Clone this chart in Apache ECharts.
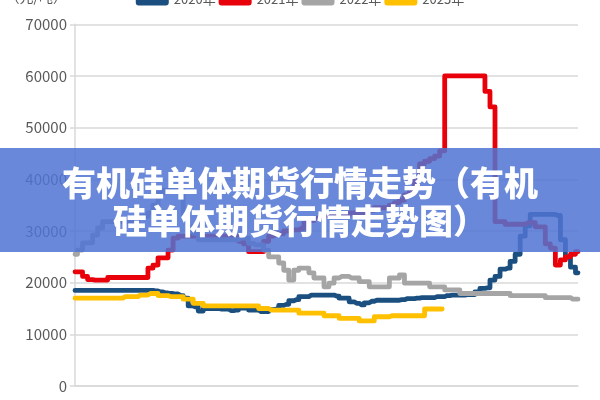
<!DOCTYPE html>
<html>
<head>
<meta charset="utf-8">
<script src="https://cdn.jsdelivr.net/npm/echarts@6/dist/echarts.min.js"></script>
<style>
html,body{margin:0;padding:0;background:#fff;}
#chart{width:600px;height:400px;}
</style>
</head>
<body>
<div id="chart"></div>
<script>
// ---- data ----
const seriesNames = ['2020年', '2021年', '2022年', '2023年'];
const categories = Array.from({length: 101}, (_, i) => String(i + 1));
const yTicks = [0, 10000, 20000, 30000, 40000, 50000, 60000, 70000];

const values2020 = [
  18500,18500,18500,18500,18500,18500,18500,18500,18500,18500,
  18500,18500,18500,18500,18500,18500,18400,18200,18000,17900,
  17800,17500,17000,15500,15300,14500,15000,15000,15000,14900,
  14900,14600,14700,15100,15100,14700,14700,14400,14400,14800,
  14900,15600,15800,16500,16700,17300,17300,17600,17600,17600,
  17600,17600,17400,17000,17000,16300,16000,15700,16100,16400,
  16600,16600,16600,16600,16600,16700,16900,16900,17000,17100,
  17100,17100,17300,17300,17500,17600,17600,17600,17700,17700,
  18200,18900,19000,20500,21200,22600,22800,24100,25500,29000,
  31000,33200,33200,33200,33200,33200,33000,28300,25000,23000,
  21900
];
const values2021 = [
  22100,22100,21200,20600,20500,20500,20500,21000,21000,21000,
  21000,21000,21000,21000,21000,22800,23400,24800,24800,26300,
  28600,29000,29000,29000,29000,29000,29000,29000,29000,29000,
  29000,29000,29000,28000,27500,26000,26000,26000,28000,29000,
  29500,29500,30000,30200,30200,30500,31500,32000,32500,32500,
  33000,33000,33000,33000,33000,33500,33500,33500,34000,34000,
  34500,34500,34500,35000,35500,36000,37000,38000,40000,43000,
  43500,44000,44500,45500,60000,60000,60000,60000,60000,60000,
  60000,60000,57000,54000,31800,31800,31300,31300,31300,31300,
  31600,31600,30800,30800,27500,26700,23400,24400,25000,25500,
  26000
];
const values2022 = [
  25500,26300,27700,27700,29200,30600,31800,31800,31800,31800,
  31800,31800,31800,32800,32800,33500,35000,37300,37900,37900,
  37900,37900,33000,30800,29600,28300,28300,28300,28300,28300,
  28300,28300,28300,28600,28600,27600,27300,27300,26300,25000,
  25000,23800,22400,20500,22400,22800,22800,21900,20900,20900,
  19200,19900,20900,21200,21200,20900,20900,20200,20200,19200,
  19200,19200,19200,20900,20900,21500,19900,19900,19900,19900,
  19900,19200,19200,19200,18600,18600,18600,17900,17900,17900,
  17900,17900,17900,17900,17900,17900,17900,17500,17500,17500,
  17500,17500,17500,17500,17100,17100,17100,17100,17100,16800,
  16800
];
const values2023 = [
  17000,17000,17000,17000,17000,17000,17000,17000,17000,17000,
  17300,17300,17300,17600,17600,17900,17900,17500,17500,17300,
  17300,17300,16800,16800,16000,16000,15500,15500,15500,15500,
  15500,15500,15500,15500,15500,15500,15500,15000,15000,14700,
  14700,14700,14700,14700,14700,14100,14100,14100,14100,14100,
  13600,13600,13600,13100,13100,13100,13100,12600,12600,12600,
  13400,13400,13400,13600,13600,13600,13600,13600,13600,13600,
  14900,14900,14900,14900
];
const seriesValues = [values2020, values2021, values2022, values2023];
const seriesColors = ['#1b4f80', '#e8000b', '#a5a5a5', '#ffc000'];
const titleLines = ['有机硅单体期货行情走势（有机', '硅单体期货行情走势图）'];
const unitName = '（元/吨）';

// ---- chart ----
const chart = echarts.init(document.getElementById('chart'), null, {renderer: 'canvas'});
const axisFont = '"Liberation Sans Narrow", "Noto Sans CJK SC", sans-serif';
const option = {
  animation: false,
  backgroundColor: '#ffffff',
  legend: {
    data: seriesNames,
    top: -12,
    left: 'center',
    icon: 'roundRect',
    itemWidth: 33,
    itemHeight: 12,
    itemGap: 3,
    textStyle: {color: '#595959', fontSize: 13, fontFamily: axisFont, padding: [13, 0, 0, 0]}
  },
  grid: {left: 75, right: 22, top: 24.3, bottom: 14, containLabel: false, outerBoundsMode: 'none'},
  xAxis: {
    type: 'category',
    data: categories,
    boundaryGap: false,
    axisLine: {show: true, lineStyle: {color: '#d9d9d9', width: 1.5}},
    axisTick: {show: false},
    axisLabel: {show: false},
    splitLine: {show: false}
  },
  yAxis: {
    type: 'value',
    min: yTicks[0],
    max: yTicks[yTicks.length - 1],
    interval: 10000,
    axisLine: {show: true, lineStyle: {color: '#d9d9d9', width: 1.5}},
    axisTick: {show: true, length: 5, lineStyle: {color: '#d9d9d9', width: 1.5}},
    axisLabel: {color: '#595959', fontSize: 15, fontFamily: axisFont, margin: 8, formatter: (v) => String(v)},
    splitLine: {show: true, lineStyle: {color: '#d9d9d9', width: 1.5}}
  },
  series: seriesNames.map((name, k) => ({
    name: name,
    type: 'line',
    step: 'middle',
    data: seriesValues[k],
    showSymbol: false,
    symbol: 'none',
    connectNulls: false,
    color: seriesColors[k],
    lineStyle: {color: seriesColors[k], width: 4.8, join: 'round', cap: 'round'}
  })),
  graphic: [
    {
      type: 'text',
      z: 50,
      x: 67,
      y: 4,
      style: {
        text: unitName,
        fill: '#595959',
        font: '14px "Noto Sans CJK SC", sans-serif',
        align: 'right',
        verticalAlign: 'bottom'
      }
    },
    {
      type: 'rect',
      z: 100,
      shape: {x: 0, y: 148, width: 600, height: 104},
      style: {fill: 'rgba(80,115,210,0.85)'}
    },
    {
      type: 'text',
      z: 101,
      x: 300,
      y: 202,
      style: {
        text: titleLines.join('\n'),
        fill: '#ffffff',
        font: '900 34px "Noto Sans CJK SC", sans-serif',
        lineHeight: 38,
        align: 'center',
        verticalAlign: 'middle'
      }
    }
  ]
};
chart.setOption(option);
</script>
</body>
</html>
